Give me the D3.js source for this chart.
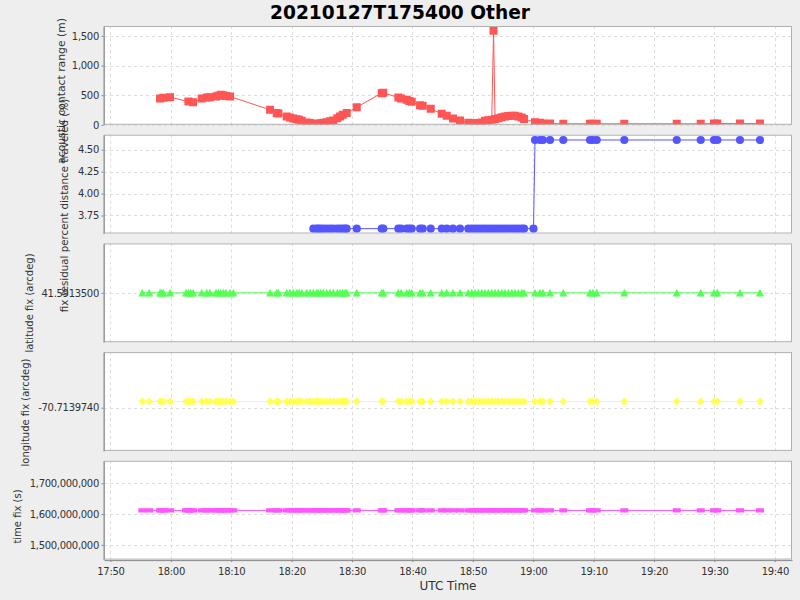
<!DOCTYPE html>
<html><head><meta charset="utf-8">
<script src="https://cdn.jsdelivr.net/npm/d3@7"></script>
<style>body{margin:0;background:#EEEEEE} svg text{font-family:"DejaVu Sans",sans-serif}</style>
</head><body><svg id="c" width="800" height="600"></svg>
<script>
const TITLE = "20210127T175400 Other";
const DAY = "2021-01-27";
const X_LABEL = "UTC Time";
const xDomain = ["17:48:56", "19:42:51"];
const xTickLabels = ["17:50","18:00","18:10","18:20","18:30","18:40","18:50","19:00","19:10","19:20","19:30","19:40"];

// acoustic contact range (m)
const rangeTimes = [
"17:58:13","17:58:46","17:59:52","18:02:54","18:03:41","18:05:07","18:05:57","18:06:29","18:07:29","18:07:52",
"18:08:16","18:08:42","18:09:08","18:09:48","18:16:26","18:17:32","18:17:48","18:19:11","18:19:44","18:20:17",
"18:20:51","18:21:14","18:21:40","18:22:30","18:23:03","18:23:36","18:24:09","18:24:25","18:24:49","18:25:15",
"18:25:49","18:26:22","18:26:54","18:27:34","18:28:01","18:28:28","18:29:07","18:30:47","18:34:55","18:35:11",
"18:37:40","18:38:07","18:39:03","18:39:29","18:39:53","18:41:16","18:41:42","18:43:02","18:44:51","18:45:41",
"18:46:43","18:47:53","18:49:15","18:49:49","18:50:22","18:50:55","18:51:29","18:52:01","18:52:34","18:53:08",
"18:53:26","18:53:41","18:54:13","18:54:47","18:55:20","18:55:53","18:56:27","18:56:59","18:57:32","18:58:06",
"18:58:29","19:00:18","19:01:08","19:01:37","19:02:47","19:04:59","19:09:24","19:09:51","19:10:31","19:15:05",
"19:23:46","19:27:44","19:29:56","19:30:29","19:34:14","19:37:33"];
const rangeValues = [
445,455,466,392,382,443,460,466,477,490,
505,500,485,477,253,197,190,140,125,106,
95,84,70,39,30,17,15,17,28,35,
45,60,73,110,140,170,197,298,534,540,
460,445,421,400,387,331,320,269,185,152,
106,73,34,28,28,32,39,67,75,84,
1587,96,110,129,140,148,152,152,140,123,
96,45,34,22,22,17,17,17,17,17,
17,17,22,22,22,22];

// fix residual percent distance traveled (%)
const residualTimes = [
"18:23:36","18:24:09","18:24:25","18:24:49","18:25:15","18:25:49","18:26:22","18:26:54","18:27:34","18:28:01",
"18:28:28","18:28:51","18:29:07","18:30:47","18:34:55","18:35:11","18:37:40","18:38:07","18:39:03","18:39:29",
"18:39:53","18:41:16","18:41:42","18:43:02","18:44:51","18:45:41","18:46:43","18:47:53","18:49:15","18:49:49",
"18:50:22","18:50:55","18:51:29","18:52:01","18:52:34","18:53:08","18:53:41","18:54:13","18:54:47","18:55:20",
"18:55:53","18:56:27","18:56:59","18:57:32","18:58:06","18:58:29","19:00:03","19:00:18","19:01:08","19:01:37",
"19:02:47","19:04:59","19:09:24","19:09:51","19:10:31","19:15:05","19:23:46","19:27:44","19:29:56","19:30:29",
"19:34:14","19:37:33"];
const residualValues = [
3.60,3.60,3.60,3.60,3.60,3.60,3.60,3.60,3.60,3.60,
3.60,3.60,3.60,3.60,3.60,3.60,3.60,3.60,3.60,3.60,
3.60,3.60,3.60,3.60,3.60,3.60,3.60,3.60,3.60,3.60,
3.60,3.60,3.60,3.60,3.60,3.60,3.60,3.60,3.60,3.60,
3.60,3.60,3.60,3.60,3.60,3.60,3.60,4.61,4.61,4.61,
4.61,4.61,4.61,4.61,4.61,4.61,4.61,4.61,4.61,4.61,
4.61,4.61];

// fixes (latitude / longitude / time)
const fixTimes = [
"17:55:17","17:56:26","17:58:13","17:58:30","17:58:46","17:59:52","18:02:31","18:02:54","18:03:18","18:03:41",
"18:05:07","18:05:57","18:06:29","18:07:29","18:07:52","18:08:16","18:08:42","18:09:08","18:09:48","18:10:21",
"18:16:26","18:17:32","18:17:48","18:19:11","18:19:44","18:20:17","18:20:51","18:21:14","18:21:40","18:22:30",
"18:23:03","18:23:36","18:24:09","18:24:25","18:24:49","18:25:15","18:25:49","18:26:22","18:26:54","18:27:34",
"18:28:01","18:28:28","18:28:51","18:29:07","18:30:47","18:34:55","18:35:11","18:37:40","18:38:07","18:39:03",
"18:39:29","18:39:53","18:41:16","18:41:42","18:43:02","18:44:51","18:45:41","18:46:43","18:47:53","18:49:15",
"18:49:49","18:50:22","18:50:55","18:51:29","18:52:01","18:52:34","18:53:08","18:53:41","18:54:13","18:54:47",
"18:55:20","18:55:53","18:56:27","18:56:59","18:57:32","18:58:06","18:58:29","19:00:18","19:01:08","19:01:37",
"19:02:47","19:04:59","19:09:24","19:09:51","19:10:31","19:15:05","19:23:46","19:27:44","19:29:56","19:30:29",
"19:34:14","19:37:33"];
const fixLatitude = [
41.59135,41.59135,41.59135,41.59135,41.59135,41.59135,41.59135,41.59135,41.59135,41.59135,
41.59135,41.59135,41.59135,41.59135,41.59135,41.59135,41.59135,41.59135,41.59135,41.59135,
41.59135,41.59135,41.59135,41.59135,41.59135,41.59135,41.59135,41.59135,41.59135,41.59135,
41.59135,41.59135,41.59135,41.59135,41.59135,41.59135,41.59135,41.59135,41.59135,41.59135,
41.59135,41.59135,41.59135,41.59135,41.59135,41.59135,41.59135,41.59135,41.59135,41.59135,
41.59135,41.59135,41.59135,41.59135,41.59135,41.59135,41.59135,41.59135,41.59135,41.59135,
41.59135,41.59135,41.59135,41.59135,41.59135,41.59135,41.59135,41.59135,41.59135,41.59135,
41.59135,41.59135,41.59135,41.59135,41.59135,41.59135,41.59135,41.59135,41.59135,41.59135,
41.59135,41.59135,41.59135,41.59135,41.59135,41.59135,41.59135,41.59135,41.59135,41.59135,
41.59135,41.59135];
const fixLongitude = [
-70.71397395,-70.71397395,-70.71397395,-70.71397395,-70.71397395,-70.71397395,-70.71397395,-70.71397395,-70.71397395,-70.71397395,
-70.71397395,-70.71397395,-70.71397395,-70.71397395,-70.71397395,-70.71397395,-70.71397395,-70.71397395,-70.71397395,-70.71397395,
-70.71397395,-70.71397395,-70.71397395,-70.71397395,-70.71397395,-70.71397395,-70.71397395,-70.71397395,-70.71397395,-70.71397395,
-70.71397395,-70.71397395,-70.71397395,-70.71397395,-70.71397395,-70.71397395,-70.71397395,-70.71397395,-70.71397395,-70.71397395,
-70.71397395,-70.71397395,-70.71397395,-70.71397395,-70.71397395,-70.71397395,-70.71397395,-70.71397395,-70.71397395,-70.71397395,
-70.71397395,-70.71397395,-70.71397395,-70.71397395,-70.71397395,-70.71397395,-70.71397395,-70.71397395,-70.71397395,-70.71397395,
-70.71397395,-70.71397395,-70.71397395,-70.71397395,-70.71397395,-70.71397395,-70.71397395,-70.71397395,-70.71397395,-70.71397395,
-70.71397395,-70.71397395,-70.71397395,-70.71397395,-70.71397395,-70.71397395,-70.71397395,-70.71397395,-70.71397395,-70.71397395,
-70.71397395,-70.71397395,-70.71397395,-70.71397395,-70.71397395,-70.71397395,-70.71397395,-70.71397395,-70.71397395,-70.71397395,
-70.71397395,-70.71397395];
const fixTimeSeconds = [
1611770040,1611770040,1611770040,1611770040,1611770040,1611770040,1611770040,1611770040,1611770040,1611770040,
1611770040,1611770040,1611770040,1611770040,1611770040,1611770040,1611770040,1611770040,1611770040,1611770040,
1611770040,1611770040,1611770040,1611770040,1611770040,1611770040,1611770040,1611770040,1611770040,1611770040,
1611770040,1611770040,1611770040,1611770040,1611770040,1611770040,1611770040,1611770040,1611770040,1611770040,
1611770040,1611770040,1611770040,1611770040,1611770040,1611770040,1611770040,1611770040,1611770040,1611770040,
1611770040,1611770040,1611770040,1611770040,1611770040,1611770040,1611770040,1611770040,1611770040,1611770040,
1611770040,1611770040,1611770040,1611770040,1611770040,1611770040,1611770040,1611770040,1611770040,1611770040,
1611770040,1611770040,1611770040,1611770040,1611770040,1611770040,1611770040,1611770040,1611770040,1611770040,
1611770040,1611770040,1611770040,1611770040,1611770040,1611770040,1611770040,1611770040,1611770040,1611770040,
1611770040,1611770040];

// y axes
const rangeDomain = [0, 1667];
const rangeTicks = [0, 500, 1000, 1500];
const residualDomain = [3.545, 4.67];
const residualTicks = [3.75, 4.00, 4.25, 4.50];
const latDomain = [41.5913496, 41.5913504];
const latTicks = [41.59135];
const lonDomain = [-70.71397435, -70.71397355];
const lonTicks = [-70.713974];
const timeFixDomain = [1452000000, 1773000000];
const timeFixTicks = [1500000000, 1600000000, 1700000000];

const loc = d3.formatLocale({decimal: ".", thousands: ",", grouping: [3], currency: ["", ""], minus: "-"});
const parseTime = s => new Date(DAY + "T" + (s.length === 5 ? s + ":00" : s) + "Z");

const svg = d3.select("#c");
svg.append("rect").attr("width", 800).attr("height", 600).attr("fill", "#EEEEEE");

const plotLeft = 104, plotRight = 792, firstTop = 26, panelH = 98.8, panelStep = 108.7;
const x = d3.scaleUtc().domain(xDomain.map(parseTime)).range([plotLeft, plotRight]);
const xTicks = xTickLabels.map(parseTime);

const shapes = {
  square: "M-4,-4h8v8h-8Z",
  circle: d3.symbol(d3.symbolCircle, 52)(),
  triangle: "M0,-4L4,3.8L-4,3.8Z",
  diamond: "M0,-4L4,0L0,4L-4,0Z",
  rect: "M-4,-2.2h8v4.4h-8Z"
};

const panels = [
  {label: "acoustic contact range (m)", times: rangeTimes, values: rangeValues, domain: rangeDomain, ticks: rangeTicks, fmt: loc.format(","), color: "#FF5555", shape: "square", labelCY: 91, labelX: 64.5, labelSize: 10.8},
  {label: "fix residual percent distance traveled (%)", times: residualTimes, values: residualValues, domain: residualDomain, ticks: residualTicks, fmt: loc.format(".2f"), color: "#5555FF", shape: "circle", labelCY: 205.5, labelX: 68, labelSize: 10.3},
  {label: "latitude fix (arcdeg)", times: fixTimes, values: fixLatitude, domain: latDomain, ticks: latTicks, fmt: loc.format(".7f"), color: "#55FF55", shape: "triangle", labelCY: 303, labelX: 32.5, labelSize: 10},
  {label: "longitude fix (arcdeg)", times: fixTimes, values: fixLongitude, domain: lonDomain, ticks: lonTicks, fmt: loc.format(".7f"), color: "#FFFF55", shape: "diamond", labelCY: 412.5, labelX: 28.5, labelSize: 10},
  {label: "time fix (s)", times: fixTimes, values: fixTimeSeconds, domain: timeFixDomain, ticks: timeFixTicks, fmt: loc.format(","), color: "#FF55FF", shape: "rect", labelCY: 516.5, labelX: 20.5, labelSize: 10}
];

panels.forEach((p, i) => {
  const top = firstTop + i * panelStep, bottom = top + panelH;
  const y = d3.scaleLinear().domain(p.domain).range([bottom, top]);
  const g = svg.append("g");
  g.append("rect").attr("x", plotLeft).attr("y", top).attr("width", plotRight - plotLeft).attr("height", panelH).attr("fill", "#FFFFFF");
  const clipId = "clip" + i;
  svg.append("clipPath").attr("id", clipId).append("rect").attr("x", plotLeft).attr("y", top).attr("width", plotRight - plotLeft).attr("height", panelH);
  // gridlines
  g.selectAll(".vg").data(xTicks).join("line")
    .attr("x1", d => Math.round(x(d)) + 0.5).attr("x2", d => Math.round(x(d)) + 0.5)
    .attr("y1", top).attr("y2", bottom)
    .attr("stroke", "#DCDCDC").attr("stroke-dasharray", "3,3").attr("stroke-width", 1);
  g.selectAll(".hg").data(p.ticks).join("line")
    .attr("x1", plotLeft).attr("x2", plotRight)
    .attr("y1", d => Math.round(y(d)) + 0.5).attr("y2", d => Math.round(y(d)) + 0.5)
    .attr("stroke", "#DCDCDC").attr("stroke-dasharray", "3,3").attr("stroke-width", 1);
  const data = p.times.map((t, k) => ({t: parseTime(t), v: p.values[k]}));
  const pg = g.append("g").attr("clip-path", "url(#" + clipId + ")");
  pg.append("path").datum(data)
    .attr("d", d3.line().x(d => x(d.t)).y(d => y(d.v)))
    .attr("fill", "none").attr("stroke", p.color).attr("stroke-width", 1);
  pg.selectAll(".pt").data(data).join("path")
    .attr("transform", d => `translate(${x(d.t)},${y(d.v)})`)
    .attr("d", shapes[p.shape]).attr("fill", p.color);
  // outline
  g.append("rect").attr("x", plotLeft + 0.5).attr("y", top + 0.5).attr("width", plotRight - plotLeft - 1).attr("height", panelH - 1)
    .attr("fill", "none").attr("stroke", "#B0B0B0").attr("stroke-width", 1);
  // y axis
  const ax = g.append("g").attr("transform", `translate(${plotLeft - 0.5},0)`)
    .call(d3.axisLeft(y).tickValues(p.ticks).tickFormat(p.fmt).tickSizeInner(2).tickSizeOuter(0).tickPadding(2.5));
  ax.select(".domain").attr("stroke", "#888888");
  ax.selectAll(".tick line").attr("stroke", "#888888");
  ax.selectAll("text").attr("font-size", "10px").attr("font-family", "DejaVu Sans").attr("fill", "#333333").style("letter-spacing", "-0.3px");
  // axis label
  svg.append("text").attr("transform", `translate(${p.labelX},${p.labelCY}) rotate(-90)`)
    .attr("text-anchor", "middle").attr("font-size", p.labelSize + "px").attr("fill", "#333333").text(p.label);

  if (i === panels.length - 1) {
    const xa = svg.append("g").attr("transform", `translate(0,${bottom + 0.5})`)
      .call(d3.axisBottom(x).tickValues(xTicks).tickFormat(d3.utcFormat("%H:%M")).tickSizeInner(2).tickSizeOuter(0).tickPadding(5.5));
    xa.select(".domain").attr("stroke", "#888888");
    xa.selectAll(".tick line").attr("stroke", "#888888");
    xa.selectAll("text").attr("font-size", "10px").attr("font-family", "DejaVu Sans").attr("fill", "#333333").style("letter-spacing", "-0.3px");
    svg.append("text").attr("x", (plotLeft + plotRight) / 2).attr("y", 590)
      .attr("text-anchor", "middle").attr("font-size", "12px").attr("fill", "#333333").text(X_LABEL);
  }
});

svg.append("text").attr("x", 400).attr("y", 18.5).attr("text-anchor", "middle")
  .attr("font-size", "18.6px").attr("font-weight", "bold").attr("fill", "#000000").text(TITLE);
</script>
</body></html>
